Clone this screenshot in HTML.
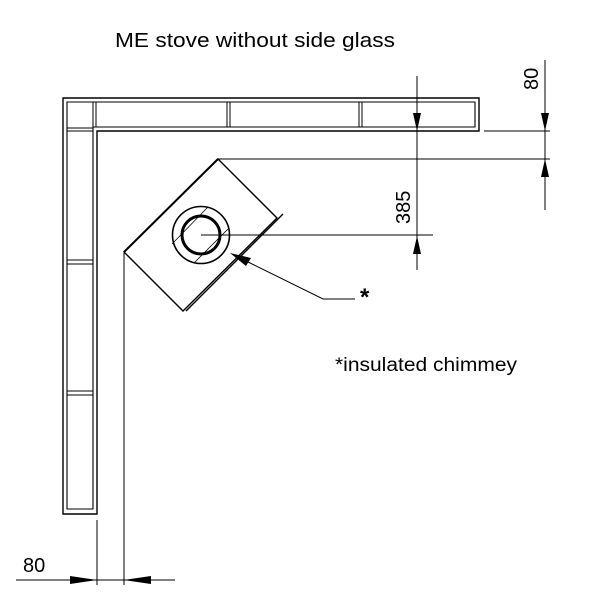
<!DOCTYPE html>
<html><head><style>body{margin:0;background:#fff}svg{display:block}</style></head>
<body>
<svg width="603" height="605" xmlns="http://www.w3.org/2000/svg" font-family="Liberation Sans, Arial, sans-serif">
<text x="115" y="47" font-size="20" textLength="280" lengthAdjust="spacingAndGlyphs">ME stove without side glass</text>
<text x="335" y="371" font-size="19" textLength="182" lengthAdjust="spacingAndGlyphs">*insulated chimmey</text>
<g fill="none" stroke="#000" stroke-width="1.4">
<path d="M63 98 H479 V131 H97 V514 H63 Z"/>
<path d="M67 102 H475 V127 H93 V509 H67 Z" stroke-width="1.1"/>
<path d="M93 102 V127 M96 102 V127 M227 102 V127 M230 102 V127 M359 102 V127 M362 102 V127" stroke-width="1"/>
<path d="M67 128 H93 M67 131 H93 M67 260 H93 M67 264 H93 M67 391 H93 M67 395 H93" stroke-width="1"/>
<path d="M218 159 L277 218 L183 311 L124 252 Z"/>
<path d="M283 214 L186 311" stroke-width="1.4"/>
<path d="M124 252 L218 159" stroke-width="2"/>
<circle cx="201" cy="235" r="28.5" stroke-width="1.6"/>
<circle cx="201" cy="235" r="19" stroke-width="3"/>
<path d="M172 244 L208 207 M194 263 L228 229" stroke-width="0.8"/>
</g>
<g stroke="#000" stroke-width="1" fill="none">
<path d="M218 159 H550 M201 235 H433 M484 131 H550"/>
<path d="M417 76 V270 M545 60 V210"/>
<path d="M16 580 H175 M97 520 V585 M124 253 V585"/>
<path d="M248 262 L323 299 H355"/>
</g>
<g fill="#000">
<path d="M417 131 L413 113 L421 113 Z"/>
<path d="M417 236 L413 254 L421 254 Z"/>
<path d="M545 131 L541 113 L549 113 Z"/>
<path d="M545 159 L541 177 L549 177 Z"/>
<path d="M97 580 L70 576 L70 584 Z"/>
<path d="M124 580 L151 576 L151 584 Z"/>
<path d="M230 253 L251 258 L246 266 Z"/>
</g>
<text x="360" y="305" font-size="24" font-weight="bold">*</text>
<text x="23" y="572" font-size="20">80</text>
<text transform="translate(538,90) rotate(-90)" font-size="20">80</text>
<text transform="translate(410,224) rotate(-90)" font-size="20">385</text>
</svg>
</body></html>
